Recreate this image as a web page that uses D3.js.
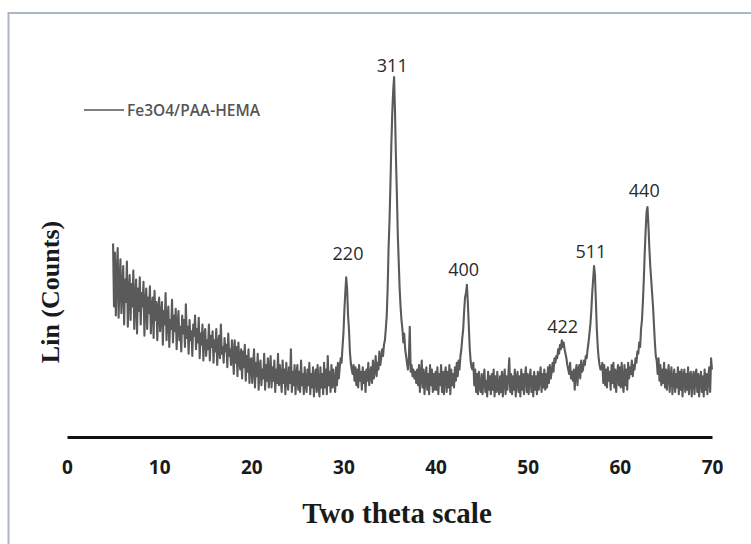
<!DOCTYPE html>
<html>
<head>
<meta charset="utf-8">
<script src="https://cdn.jsdelivr.net/npm/d3@7"></script>
<style>
  body { margin: 0; background: #fff; }
  svg { display: block; }
</style>
</head>
<body>
<svg class="chartSvg" width="751" height="544"></svg>
<script>
// two theta start / step of the scan
var thetaStart = 5, thetaStep = 0.1;

// Lin (Counts), one row per degree (5.0 .. 69.9), then 70.0
var counts = [
  430, 290, 410, 270, 360, 420, 265, 340, 395, 275,
  330, 380, 250, 350, 300, 390, 245, 320, 360, 260,
  340, 290, 370, 240, 310, 350, 230, 330, 280, 355,
  250, 320, 290, 345, 225, 300, 330, 240, 310, 275,
  335, 230, 290, 310, 220, 325, 260, 300, 215, 285,
  310, 235, 270, 300, 205, 280, 250, 320, 215, 265,
  290, 200, 260, 240, 305, 210, 270, 235, 285, 195,
  250, 280, 215, 245, 190, 270, 230, 260, 200, 295,
  220, 245, 185, 260, 215, 235, 180, 250, 225, 270,
  195, 240, 210, 265, 175, 230, 205, 250, 170, 225,
  240, 180, 215, 195, 250, 170, 225, 200, 235, 165,
  215, 190, 240, 160, 205, 225, 175, 250, 185, 200,
  165, 220, 190, 205, 155, 230, 180, 195, 160, 215,
  185, 140, 215, 165, 200, 135, 210, 170, 150, 195,
  130, 190, 155, 205, 125, 180, 145, 195, 120, 170,
  175, 120, 160, 195, 110, 165, 135, 185, 105, 155,
  170, 115, 150, 130, 185, 105, 160, 125, 175, 110,
  150, 180, 110, 155, 125, 170, 100, 150, 120, 185,
  115, 160, 130, 100, 170, 120, 150, 95, 165, 125,
  105, 155, 120, 195, 100, 145, 115, 160, 95, 140,
  160, 105, 145, 100, 170, 115, 140, 95, 155, 120,
  100, 150, 115, 165, 95, 140, 110, 155, 90, 135,
  150, 100, 160, 115, 90, 155, 110, 140, 95, 165,
  110, 150, 95, 180, 115, 145, 100, 160, 110, 150,
  120, 100, 155, 115, 165, 130, 155, 175, 165, 200,
  230, 280, 320, 355, 330, 270, 240, 190, 165, 150,
  140, 160, 125, 155, 115, 150, 110, 160, 125, 145,
  105, 155, 120, 145, 100, 150, 125, 165, 115, 140,
  155, 120, 170, 130, 150, 180, 135, 165, 150, 190,
  160, 175, 195, 180, 205, 215, 240, 270, 330, 420,
  480, 560, 650, 720, 770, 800, 720, 620, 540, 450,
  390, 330, 290, 260, 240, 210, 230, 195, 180, 165,
  150, 175, 245, 145, 160, 135, 150, 130, 145, 120,
  150, 115, 160, 100, 140, 170, 110, 150, 95, 135,
  155, 105, 140, 95, 160, 115, 150, 100, 140, 105,
  145, 105, 155, 95, 140, 115, 160, 100, 145, 95,
  140, 155, 100, 145, 110, 160, 95, 150, 115, 140,
  110, 155, 125, 165, 135, 170, 150, 180, 195, 220,
  240, 280, 310, 320, 338, 300, 250, 200, 170, 155,
  150, 165, 115, 150, 100, 140, 95, 145, 110, 100,
  140, 95, 130, 150, 100, 125, 90, 145, 105, 135,
  95, 140, 105, 150, 90, 135, 100, 145, 110, 95,
  135, 100, 145, 90, 130, 150, 95, 135, 105, 140,
  175, 100, 140, 95, 135, 105, 150, 90, 130, 145,
  100, 135, 90, 150, 105, 140, 95, 135, 155, 100,
  140, 95, 130, 150, 100, 135, 90, 145, 105, 135,
  95, 145, 105, 135, 155, 100, 140, 110, 150, 105,
  140, 110, 155, 120, 160, 130, 145, 165, 145, 175,
  165, 180, 175, 195, 185, 205, 195, 215, 200, 210,
  195, 185, 175, 160, 150, 140, 165, 130, 145, 125,
  150, 105, 145, 160, 115, 150, 160, 130, 170, 145,
  150, 170, 160, 180, 175, 195, 210, 230, 250, 280,
  320, 350, 380, 360, 300, 240, 200, 175, 160, 150,
  150, 165, 120, 160, 115, 150, 110, 155, 125, 145,
  105, 160, 120, 165, 110, 150, 100, 140, 160, 115,
  155, 110, 165, 120, 100, 160, 115, 150, 105, 165,
  130, 155, 140, 170, 135, 160, 150, 175, 165, 190,
  185, 210, 200, 240, 260, 300, 350, 410, 460, 500,
  511, 470, 420, 380, 350, 320, 290, 250, 210, 180,
  170, 140, 175, 125, 160, 115, 150, 120, 165, 110,
  150, 105, 140, 160, 100, 135, 155, 95, 130, 150,
  100, 140, 110, 155, 95, 145, 105, 150, 90, 135,
  150, 100, 140, 105, 155, 95, 135, 145, 90, 130,
  145, 95, 135, 150, 100, 140, 90, 130, 145, 100,
  135, 90, 150, 105, 140, 95, 135, 155, 100, 175,
  150
];

// peak (hkl) labels, placed in data units
var peakLabels = ["220", "311", "400", "422", "511", "440"];
var labelTheta = [30.5, 35.3, 43.05, 53.8, 56.85, 62.65];
var labelCount = [393, 811, 358, 231, 398, 533];

var xTicks = [0, 10, 20, 30, 40, 50, 60, 70];
var seriesName = "Fe3O4/PAA-HEMA";

var data = counts.map(function(c, i) {
    return { theta: thetaStart + i * thetaStep, value: c };
});

var svg = d3.select(".chartSvg");

// outer frame
svg.append("rect")
    .attr("x", 8.5).attr("y", 13)
    .attr("width", 780).attr("height", 560)
    .attr("fill", "none")
    .attr("stroke", "#adb7c4")
    .attr("stroke-width", 2);

var x = d3.scaleLinear().domain([0, 70]).range([67, 712]);
var y = d3.scaleLinear().domain([0, 800]).range([437, 77]);

// axis line + labels
var xAxis = d3.axisBottom(x).tickValues(xTicks).tickSize(0).tickPadding(24);
var gx = svg.append("g")
    .attr("transform", "translate(0," + 437 + ")")
    .call(xAxis);
gx.select(".domain").attr("stroke", "#111").attr("stroke-width", 3);
gx.selectAll("text")
    .attr("font-family", "'Open Sans', sans-serif")
    .attr("font-weight", "bold")
    .attr("font-size", 19)
    .attr("fill", "#1a1a1a");

var line = d3.line()
    .x(function(d) { return x(d.theta); })
    .y(function(d) { return y(d.value); });

svg.append("path")
    .datum(data)
    .attr("fill", "none")
    .attr("stroke", "#5a5a5a")
    .attr("stroke-width", 2.1)
    .attr("stroke-linejoin", "round")
    .attr("d", line);

// peak labels
svg.selectAll(".peak")
    .data(peakLabels)
    .enter().append("text")
    .attr("class", "peak")
    .attr("x", function(d, i) { return x(labelTheta[i]); })
    .attr("y", function(d, i) { return y(labelCount[i]); })
    .attr("text-anchor", "middle")
    .attr("font-family", "'Open Sans', sans-serif")
    .attr("font-size", 18)
    .attr("fill", "#2a2a2a")
    .text(function(d) { return d; });

// legend
svg.append("line")
    .attr("x1", 84).attr("x2", 124)
    .attr("y1", 110).attr("y2", 110)
    .attr("stroke", "#555").attr("stroke-width", 1.5);
svg.append("text")
    .attr("x", 127).attr("y", 115.5)
    .attr("font-family", "'Open Sans', sans-serif")
    .attr("font-weight", 600)
    .attr("font-size", 15.5)
    .attr("fill", "#555")
    .text(seriesName);

// axis titles
svg.append("text")
    .attr("x", 397).attr("y", 523)
    .attr("text-anchor", "middle")
    .attr("font-family", "'Liberation Serif', 'Times New Roman', serif")
    .attr("font-weight", "bold")
    .attr("font-size", 29)
    .attr("fill", "#1a1a1a")
    .text("Two theta scale");

svg.append("text")
    .attr("transform", "translate(59,292) rotate(-90)")
    .attr("text-anchor", "middle")
    .attr("font-family", "'Liberation Serif', 'Times New Roman', serif")
    .attr("font-weight", "bold")
    .attr("font-size", 26)
    .attr("fill", "#1a1a1a")
    .text("Lin (Counts)");
</script>
</body>
</html>
